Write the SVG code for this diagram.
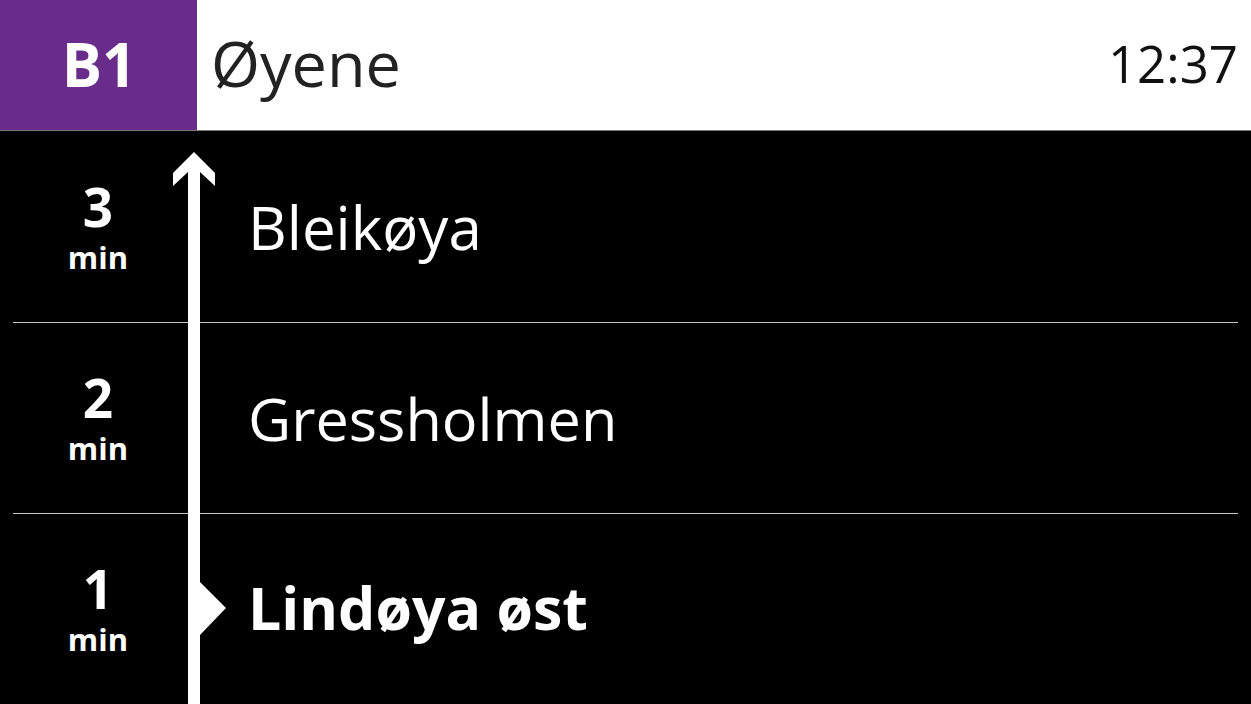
<svg xmlns="http://www.w3.org/2000/svg" width="1251" height="704" viewBox="0 0 1251 704">
<style>
.num{font-family:"Open Sans","Noto Sans",sans-serif;font-weight:700;fill:#fff;text-anchor:middle}
.n{font-size:53px}
.m{font-size:31px}
.stop{font-family:"Open Sans","Noto Sans",sans-serif;font-size:60px;fill:#fff}
.sep{stroke:#c8c8c8;stroke-width:1.2}
</style>
<rect width="1251" height="704" fill="#000"/>
<g id="header">
<rect x="0" y="0" width="1251" height="130" fill="#fff"/>
<line x1="0" y1="130.5" x2="1251" y2="130.5" stroke="#777" stroke-width="1"/>
<rect x="0" y="0" width="197" height="130" fill="#6a2c8a"/>
<text x="99" y="87" font-family="Open Sans, Noto Sans, sans-serif" font-weight="700" font-size="60" fill="#fff" text-anchor="middle">B1</text>
<text x="211" y="87" font-family="Open Sans, Noto Sans, sans-serif" font-size="63" fill="#222">Øyene</text>
<text x="1238" y="83" font-family="Open Sans, Noto Sans, sans-serif" font-size="51" fill="#111" text-anchor="end">12:37</text>
</g>
<g id="connectors">
<line class="sep" x1="13" y1="322.5" x2="1238" y2="322.5"/>
<line class="sep" x1="13" y1="513.5" x2="1238" y2="513.5"/>
<polygon points="194,152 215,173 215,186 200,172 200,704 188,704 188,172 173,186 173,173" fill="#fff"/>
<polygon points="200,582 226,608 200,635" fill="#fff"/>
</g>
<g id="row1">
<text class="num n" x="98" y="227">3</text>
<text class="num m" x="98" y="269">min</text>
<text class="stop" x="248" y="250">Bleikøya</text>
</g>
<g id="row2">
<text class="num n" x="98" y="418">2</text>
<text class="num m" x="98" y="460">min</text>
<text class="stop" x="248" y="441" style="font-size:59.4px">Gressholmen</text>
</g>
<g id="row3">
<text class="num n" x="98" y="609">1</text>
<text class="num m" x="98" y="651">min</text>
<text class="stop" x="248" y="630" style="font-weight:700;font-size:59px">Lindøya øst</text>
</g>
</svg>
